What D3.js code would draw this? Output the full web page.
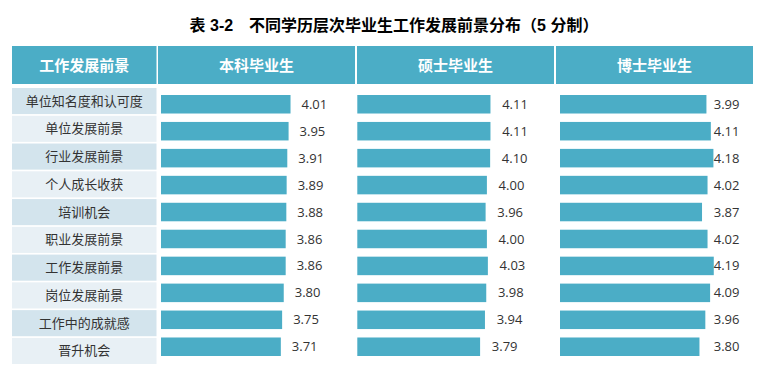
<!DOCTYPE html>
<html>
<head>
<meta charset="utf-8">
<script src="https://cdn.jsdelivr.net/npm/d3@7"></script>
<style>
  body { margin: 0; background: #fff; }
  svg { display: block; }
  .title { font-family: "Liberation Sans", "Noto Sans CJK SC", sans-serif; font-weight: bold; }
  .head { font-family: "Noto Sans CJK SC", sans-serif; font-weight: bold; fill: #fff; }
  .cat { font-family: "Noto Sans CJK SC", sans-serif; fill: #333; }
  .val { font-family: "Open Sans", "Noto Sans", sans-serif; fill: #333; }
</style>
</head>
<body>
<div id="chart"></div>
<script>
// data
var categories = ["单位知名度和认可度", "单位发展前景", "行业发展前景", "个人成长收获", "培训机会",
    "职业发展前景", "工作发展前景", "岗位发展前景", "工作中的成就感", "晋升机会"];
var headers = ["工作发展前景", "本科毕业生", "硕士毕业生", "博士毕业生"];
var bachelor = [4.01, 3.95, 3.91, 3.89, 3.88, 3.86, 3.86, 3.80, 3.75, 3.71];
var master = [4.11, 4.11, 4.10, 4.00, 3.96, 4.00, 4.03, 3.98, 3.94, 3.79];
var doctor = [3.99, 4.11, 4.18, 4.02, 3.87, 4.02, 4.19, 4.09, 3.96, 3.80];
var titleText = "表 3-2\u3000不同学历层次毕业生工作发展前景分布（5 分制）";

var width = 776, height = 382;
var blue = "#4badc6";

var svg = d3.select("#chart").append("svg")
    .attr("width", width)
    .attr("height", height);

svg.append("text")
    .attr("class", "title")
    .attr("x", 394)
    .attr("y", 31)
    .attr("text-anchor", "middle")
    .attr("font-size", "16px")
    .text(titleText);

// header columns
var colEdges = [[12, 156.5], [158, 355], [357, 554], [556, 753]];

var head = svg.append("g");
head.selectAll("rect")
    .data(colEdges)
    .enter().append("rect")
    .attr("x", function(d) { return d[0]; })
    .attr("y", 46)
    .attr("width", function(d) { return d[1] - d[0]; })
    .attr("height", 38)
    .attr("fill", blue);

head.selectAll("text")
    .data(headers)
    .enter().append("text")
    .attr("class", "head")
    .attr("x", function(d, i) { return (colEdges[i][0] + colEdges[i][1]) / 2; })
    .attr("y", 66)
    .attr("dy", "0.35em")
    .attr("text-anchor", "middle")
    .attr("font-size", "15px")
    .text(function(d) { return d; });

// rows
var cellY = d3.scaleBand()
    .domain(categories)
    .range([88, 364])
    .paddingInner(0.06);

var barY = d3.scaleBand()
    .domain(categories)
    .range([95, 356])
    .paddingInner(0.313);

var cats = svg.append("g");
cats.selectAll("rect")
    .data(categories)
    .enter().append("rect")
    .attr("x", colEdges[0][0])
    .attr("y", function(d) { return cellY(d); })
    .attr("width", colEdges[0][1] - colEdges[0][0])
    .attr("height", cellY.bandwidth())
    .attr("fill", function(d, i) { return i % 2 == 0 ? "#d3e4ed" : "#e8f0f5"; });

cats.selectAll("text")
    .data(categories)
    .enter().append("text")
    .attr("class", "cat")
    .attr("x", (colEdges[0][0] + colEdges[0][1]) / 2)
    .attr("y", function(d) { return cellY(d) + cellY.bandwidth() / 2; })
    .attr("dy", "0.35em")
    .attr("text-anchor", "middle")
    .attr("font-size", "13px")
    .text(function(d) { return d; });

// one scale per column, all start at 0
var series = [
    { values: bachelor, x: d3.scaleLinear().domain([0, 5]).range([161, 322.5]), offset: 11 },
    { values: master, x: d3.scaleLinear().domain([0, 5]).range([357.3, 519.3]), offset: 11.7 },
    { values: doctor, x: d3.scaleLinear().domain([0, 5]).range([560, 743.5]), offset: 0, fixed: true }
];

series.forEach(function(s) {
    var g = svg.append("g");
    var maxX = s.x(d3.max(s.values));

    g.selectAll("rect")
        .data(s.values)
        .enter().append("rect")
        .attr("x", s.x(0))
        .attr("y", function(d, i) { return barY(categories[i]); })
        .attr("width", function(d) { return s.x(d) - s.x(0); })
        .attr("height", barY.bandwidth())
        .attr("fill", blue);

    g.selectAll("text")
        .data(s.values)
        .enter().append("text")
        .attr("class", "val")
        .attr("x", function(d) {
            // 博士 column labels sit in a fixed column
            return s.fixed ? maxX : s.x(d) + s.offset;
        })
        .attr("y", function(d, i) { return barY(categories[i]) + barY.bandwidth() / 2; })
        .attr("dy", "0.35em")
        .attr("font-size", "13px")
        .text(function(d) { return d.toFixed(2); });
});
</script>
</body>
</html>
